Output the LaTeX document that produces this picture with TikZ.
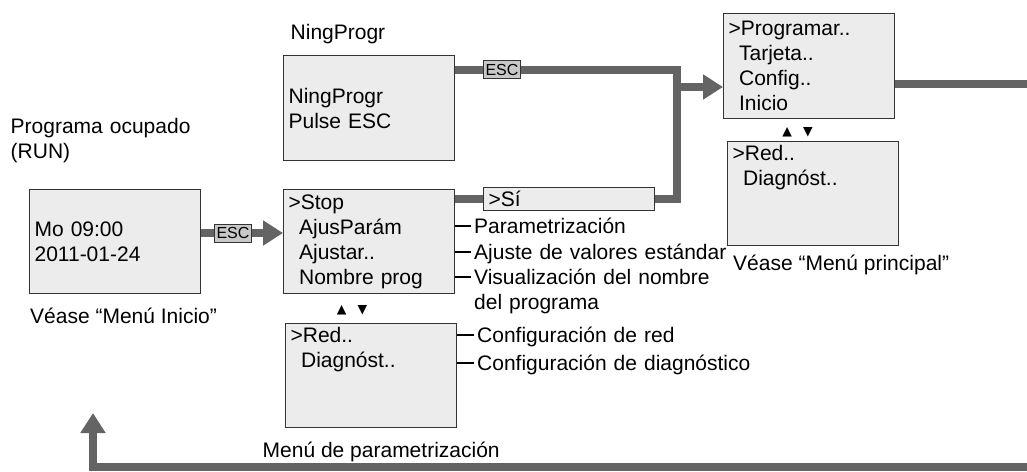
\documentclass[tikz,border=0pt]{standalone}
\usepackage{fontspec}
\setmainfont{Liberation Sans}
\newfontfamily\symfont{DejaVu Sans}
\usepackage{xcolor}
\usepackage{tikz}
\usetikzlibrary{positioning, arrows.meta}
\definecolor{scrfill}{HTML}{ECECEC}
\definecolor{scrline}{HTML}{333333}
\definecolor{flowgray}{HTML}{646464}
\definecolor{keyfill}{HTML}{C8C8C8}
\newcommand{\subitm}{\hspace*{0.5em}}

\begin{document}
\begin{tikzpicture}[x=1pt, y=-1pt, font=\fontsize{21}{25}\selectfont,
 scr/.style={draw=scrline, fill=scrfill, line width=1.2pt, minimum height=104pt, text width=161pt, inner xsep=5pt, inner ysep=0pt, align=left},
 key/.style={draw=scrline, fill=keyfill, line width=1pt, font=\fontsize{16}{18}\selectfont, inner xsep=2pt, inner ysep=1pt, minimum height=18pt},
 lbl/.style={inner sep=0pt, anchor=base west},
 ann/.style={inner xsep=3pt, inner ysep=0pt, anchor=base west, text width=300pt, align=left},
 updn/.style={font=\fontsize{12.5}{13}\selectfont\symfont, inner sep=0pt},
 flow/.style={draw=flowgray, line width=8pt},
 flowarr/.style={flow, -{Triangle[length=20pt, width=24pt]}},
 tick/.style={draw=black, line width=1.2pt}]
\useasboundingbox (0,0) rectangle (1027,471);

% screens
\node[scr, anchor=north west](mo) at (29,189){Mo 09:00\\2011-01-24};
\node[scr, anchor=north west](stop) at (283,189){>Stop\\\subitm AjusParám\\\subitm Ajustar..\\\subitm Nombre prog};
\node[scr, below=29pt of stop, xshift=2pt](red){>Red..\\\subitm Diagnóst..\\\strut\\\strut};
\node[scr, anchor=north west, minimum height=105pt](ning) at (283,55){NingProgr\\Pulse ESC};
\node[scr, anchor=north west, minimum height=105pt](prog) at (723,13){>Programar..\\\subitm Tarjeta..\\\subitm Config..\\\subitm Inicio};
\node[scr, below=22pt of prog, xshift=4pt](red2){>Red..\\\subitm Diagnóst..\\\strut\\\strut};
\node[scr, anchor=west, minimum height=23pt](si) at (483,199){>Sí};

% keys and scroll marks
\node[key](esc1) at (233,233){ESC};
\node[key](esc2) at (502,69.5){ESC};
\node[updn](upd1) at (352,310){▲\hspace{11pt}▼};
\node[updn](upd2) at (797.5,132.5){▲\hspace{11pt}▼};

% captions
\node[lbl](ningttl) at (290.5,39.5){NingProgr};
\node[lbl, text width=200pt, align=left](busy) at (10.5,133){Programa ocupado\\(RUN)};
\node[lbl](seeinicio) at (30,323){Véase “Menú Inicio”};
\node[lbl](parmenu) at (262.5,457){Menú de parametrización};
\node[lbl](seemain) at (733,270){Véase “Menú principal”};

% notes
\node[ann](a1) at (471,233.5){Parametrización};
\node[ann](a2) at (471,259.5){Ajuste de valores estándar};
\node[ann](a3) at (471,284.5){Visualización del nombre\\del programa};
\node[ann](a4) at (474,342.5){Configuración de red};
\node[ann](a5) at (474,370.5){Configuración de diagnóstico};

\foreach \n in {a1,a2,a3,a4,a5}
  {\coordinate (t\n) at ([yshift=7.5pt]\n.base west);}
\foreach \n in {a1,a2,a3}
  {\draw[tick](stop.east |- t\n)--(t\n);}
\foreach \n in {a4,a5}
  {\draw[tick](red.east |- t\n)--(t\n);}

% flow lines
\coordinate (jtop) at (677,69.5);
\coordinate (jbot) at (677,199);
\coordinate (jmid) at (677,87);
\coordinate (rout) at (1027,84);
\coordinate (bout) at (1027,467);
\coordinate (bcorner) at (93,467);
\coordinate (btip) at (93,413);

\draw[flow](esc1 -| mo.east)--(esc1.west);
\draw[flowarr](esc1.east)--(esc1 -| stop.west);
\draw[flow](esc2 -| ning.east)--(esc2.west);
\draw[flow](esc2.east)--(jtop)--(jbot)--(si.east);
\draw[flow](si.west -| stop.east)--(si.west);
\draw[flowarr](jmid)--(jmid -| prog.west);
\draw[flow](rout -| prog.east)--(rout);
\draw[flowarr](bout)--(bcorner)--(btip);

\end{tikzpicture}
\end{document}
